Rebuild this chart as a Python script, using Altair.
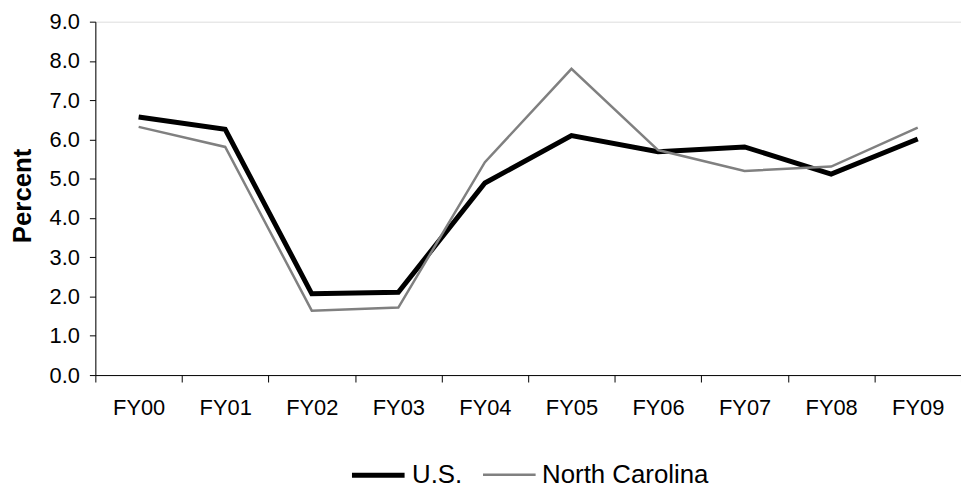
import altair as alt
import pandas as pd

years = ["FY00", "FY01", "FY02", "FY03", "FY04", "FY05", "FY06", "FY07", "FY08", "FY09"]
us_values = [6.57, 6.26, 2.07, 2.11, 4.89, 6.10, 5.69, 5.81, 5.12, 6.01]
nc_values = [6.32, 5.81, 1.64, 1.72, 5.42, 7.80, 5.73, 5.20, 5.31, 6.30]
series_names = ["U.S.", "North Carolina"]
series_colors = ["#000000", "#808080"]
series_widths = [5, 2.5]

rows = []
for name, vals in zip(series_names, [us_values, nc_values]):
    for y, v in zip(years, vals):
        rows.append({"year": y, "value": v, "series": name})
df = pd.DataFrame(rows)

FONT = "Liberation Sans"


def make_legend():
    return alt.Legend(
        title=None,
        orient="none",
        legendX=256,
        legendY=428,
        direction="horizontal",
        symbolType="stroke",
        symbolSize=2809,
        labelFontSize=26,
        labelFont=FONT,
        labelColor="#000000",
        labelOffset=5,
        labelLimit=0,
        columnPadding=15,
        padding=0,
    )


chart = alt.Chart(df).mark_line().encode(
    x=alt.X(
        "year:O",
        sort=years,
        bandPosition=0.5,
        scale=alt.Scale(type="band", paddingInner=0, paddingOuter=0),
        axis=alt.Axis(
            title=None,
            labelAngle=0,
            labelFontSize=22,
            labelColor="#000000",
            labelPadding=16,
            tickBand="extent",
            tickSize=7,
            tickColor="#000000",
            domainColor="#000000",
            labelFont=FONT,
        ),
    ),
    y=alt.Y(
        "value:Q",
        scale=alt.Scale(domain=[0, 9], nice=False),
        axis=alt.Axis(
            title="Percent",
            values=[0, 1, 2, 3, 4, 5, 6, 7, 8, 9],
            format=".1f",
            grid=False,
            labelFontSize=22,
            labelColor="#000000",
            labelPadding=10,
            labelFont=FONT,
            tickSize=6,
            tickColor="#000000",
            domainColor="#000000",
            titleFont=FONT,
            titleFontSize=26,
            titleFontWeight="bold",
            titleColor="#000000",
            titleX=-65,
            titleY=175,
            titleAlign="center",
            titleBaseline="alphabetic",
            titleAngle=270,
        ),
    ),
    color=alt.Color(
        "series:N",
        scale=alt.Scale(domain=series_names, range=series_colors),
        legend=make_legend(),
    ),
    strokeWidth=alt.StrokeWidth(
        "series:N",
        scale=alt.Scale(domain=series_names, range=series_widths),
        legend=make_legend(),
    ),
    order=alt.Order("series_order:Q"),
).transform_calculate(
    series_order="datum.series === 'U.S.' ? 0 : 1"
).properties(
    width=872,
    height=356,
    autosize=alt.AutoSizeParams(type="none"),
    padding={"left": 88, "top": 12, "right": 0, "bottom": 112},
).configure_view(
    stroke=None
).configure(
    font=FONT
)

chart.save("out.html", embed_options={"renderer": "svg", "actions": False})
